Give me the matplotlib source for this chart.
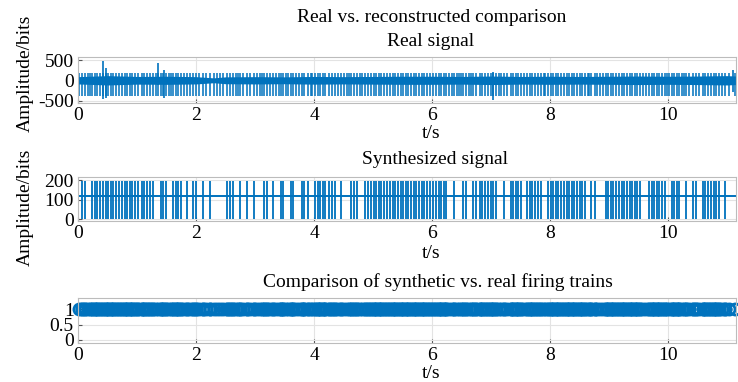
import numpy as np
import matplotlib
matplotlib.use('Agg')
import matplotlib.pyplot as plt

plt.rcParams['font.family'] = ['Liberation Serif', 'DejaVu Serif']
plt.rcParams['font.size'] = 14
plt.rcParams['axes.unicode_minus'] = False

blue = '#0072BD'

################## spike trains ##################
# firing times of the synthesized train (s)
spikeTimes = [0.07, 0.12, 0.24, 0.29, 0.33, 0.38, 0.42, 0.47, 0.51, 0.56, 0.60, 0.65,
              0.70, 0.74, 0.79, 0.83, 0.88, 0.92, 0.97, 1.02, 1.08, 1.12, 1.17, 1.22,
              1.27, 1.40, 1.44, 1.49, 1.61, 1.66, 1.70, 1.75, 1.84, 1.95, 2.00, 2.12,
              2.24, 2.53, 2.57, 2.63, 2.75, 2.87, 2.98, 3.15, 3.20, 3.31, 3.44, 3.48,
              3.61, 3.65, 3.79, 3.83, 3.89, 4.01, 4.06, 4.10, 4.15, 4.19, 4.25, 4.31,
              4.35, 4.46, 4.63, 4.68, 4.73, 4.87, 4.92, 4.96, 5.01, 5.05, 5.10, 5.14,
              5.19, 5.23, 5.28, 5.33, 5.38, 5.42, 5.47, 5.51, 5.56, 5.60, 5.64, 5.69,
              5.73, 5.78, 5.83, 5.87, 5.92, 5.97, 6.02, 6.06, 6.11, 6.15, 6.20, 6.24,
              6.37, 6.53, 6.58, 6.70, 6.75, 6.81, 6.85, 6.90, 6.94, 6.99, 7.03, 7.08,
              7.22, 7.33, 7.37, 7.42, 7.46, 7.51, 7.61, 7.66, 7.70, 7.75, 7.79, 7.84,
              7.96, 8.01, 8.05, 8.10, 8.14, 8.19, 8.23, 8.28, 8.32, 8.37, 8.41, 8.45,
              8.50, 8.54, 8.59, 8.70, 8.76, 8.94, 8.98, 9.03, 9.07, 9.12, 9.16, 9.21,
              9.25, 9.30, 9.35, 9.39, 9.44, 9.48, 9.53, 9.67, 9.72, 9.76, 9.81, 9.85,
              9.90, 9.94, 10.06, 10.10, 10.15, 10.19, 10.31, 10.42, 10.48, 10.59, 10.63,
              10.68, 10.72, 10.77, 10.81, 10.86, 10.96]
# extra firings found only in the recorded signal
realExtraTimes = [0.02, 0.17, 0.20, 1.32, 1.35, 1.54, 1.58, 1.80, 1.89, 2.05, 2.17,
                  2.30, 2.35, 2.40, 2.46, 2.68, 2.71, 2.80, 2.92, 3.03, 3.08, 3.11,
                  3.25, 3.36, 3.40, 3.52, 3.56, 3.70, 3.74, 3.94, 3.97, 4.40, 4.51,
                  4.55, 4.59, 4.78, 4.82, 6.29, 6.33, 6.42, 6.46, 6.49, 6.62, 6.66,
                  7.13, 7.17, 7.27, 7.56, 7.89, 7.92, 8.64, 8.66, 8.80, 8.84, 8.89,
                  9.58, 9.62, 9.98, 10.02, 10.24, 10.27, 10.36, 10.53, 10.91, 11.03,
                  11.14]

################## real signal ##################
# background noise envelope (bits)
noiseT = [0.0, 0.5, 1.0, 1.5, 2.0, 2.15, 2.3, 2.5, 3.0, 3.5, 4.0, 4.5, 5.0, 5.5,
          6.0, 6.5, 7.0, 7.5, 8.0, 8.5, 9.0, 9.5, 10.0, 10.5, 11.0, 11.15]
noiseAmp = [90, 115, 95, 100, 90, 75, 60, 85, 90, 85, 95, 90, 95, 100,
            100, 95, 105, 95, 100, 95, 100, 105, 100, 105, 115, 105]
spikeLow = -380
spikeHigh = 190
# large events
bigT = [0.42, 0.47, 1.35, 1.45, 7.03, 11.10]
bigHigh = [480, 300, 420, 260, 200, 260]
bigLow = [-450, -440, -120, -430, -480, -300]

################## synthesized signal ##################
synthBase = 120
synthTop = 195
synthBottom = 0
tEnd = 11.15

realTimes = sorted(spikeTimes + realExtraTimes)

fig = plt.figure(figsize=(7.38, 3.82), dpi=100)
W, H = 738, 382

def axesAt(top, bottom):
    return fig.add_axes([78 / W, 1 - bottom / H, 658 / W, (bottom - top) / H])

def style(ax, yticks):
    ax.set_xlim(0, tEnd)
    ax.set_xticks([0, 2, 4, 6, 8, 10])
    ax.set_yticks(yticks)
    ax.grid(True, color='#e3e3e3', linewidth=0.8)
    ax.set_axisbelow(True)
    for s in ax.spines.values():
        s.set_color('#bcbcbc')
        s.set_linewidth(0.8)
    ax.tick_params(direction='in', length=3, color='#555555', width=0.8,
                   labelsize=14, pad=3)

ax1 = axesAt(57, 103)
ax1.fill_between(noiseT, [-a for a in noiseAmp], noiseAmp, color=blue, linewidth=0)
ax1.vlines(realTimes, spikeLow, spikeHigh, color=blue, linewidth=1.1)
ax1.vlines(bigT, bigLow, bigHigh, color=blue, linewidth=1.2)
ax1.set_ylim(-560, 575)
style(ax1, [-500, 0, 500])

ax2 = axesAt(177, 221)
ax2.plot([0, tEnd], [synthBase, synthBase], color=blue, linewidth=1.4)
ax2.vlines(spikeTimes, synthBottom, synthTop, color=blue, linewidth=1.3)
ax2.set_ylim(-8, 217)
style(ax2, [0, 100, 200])

ax3 = axesAt(298, 343)
ax3.plot(realTimes, np.ones(len(realTimes)), 'o', color=blue, fillstyle='none',
         markersize=8, markeredgewidth=2.0, clip_on=False)
ax3.plot(spikeTimes, np.ones(len(spikeTimes)), 'o', color=blue, fillstyle='none',
         markersize=8, markeredgewidth=2.0, clip_on=False)
ax3.set_ylim(-0.1, 1.36)
style(ax3, [0, 0.5, 1])
ax3.set_yticklabels(['0', '0.5', '1'])

# titles and labels
def label(x, y, s, **kw):
    fig.text(x / W, 1 - y / H, s, ha='center', va='center', fontsize=14, **kw)

label(432, 17, 'Real vs. reconstructed comparison')
label(431, 42, 'Real signal')
label(435, 160, 'Synthesized signal')
label(438, 282, 'Comparison of synthetic vs. real firing trains')
for y in (133, 253, 373):
    label(431, y, 't/s')
for y in (73, 207):
    label(25, y, 'Amplitude/bits', rotation=90)

fig.savefig('out.png', dpi=100)
